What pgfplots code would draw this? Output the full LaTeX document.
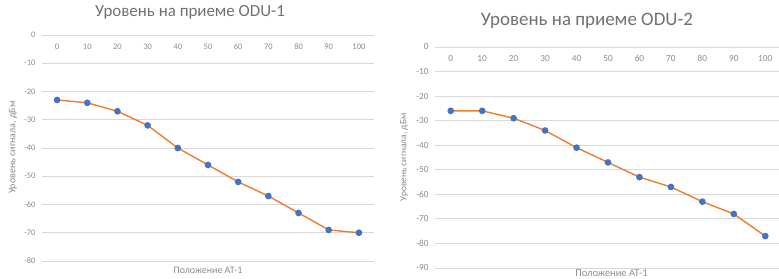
\documentclass[border=0pt]{standalone}
\usepackage{pgfplots}
\pgfplotsset{compat=1.18}
\usepackage{fontspec}
\setmainfont{Carlito}
\definecolor{lineor}{HTML}{ED7D31}
\definecolor{markbl}{HTML}{4472C4}
\definecolor{gridc}{HTML}{D9D9D9}
\definecolor{txtc}{HTML}{8C8C8C}
\definecolor{titc}{HTML}{707070}
\pgfplotsset{
  mystyle/.style={
    scale only axis,
    anchor=south west,
    xmin=-5, xmax=105,
    xtick={0,10,...,100},
    ymajorgrids, grid style={gridc, line width=0.8bp},
    axis line style={draw=none},
    major tick length=0pt,
    xticklabel pos=upper,
    /pgf/number format/assume math mode=true,
    tick label style={txtc},
    xticklabel style={anchor=north, yshift=-5bp},
    yticklabel style={xshift=-3bp},
    ylabel={Уровень сигнала, дБм},
    xlabel={Положение АТ-1},
    label style={txtc},
    title style={titc, anchor=center},
    clip=false,
  }
}
\begin{document}
\begin{tikzpicture}
\path[use as bounding box] (0,0) rectangle (779bp,279bp);
\begin{axis}[mystyle,
  at={(42bp,18bp)}, width=332bp, height=226bp,
  ymin=-80, ymax=0, ytick={-80,-70,...,0},
  tick label style={font=\fontsize{8.5}{9}\selectfont},
  label style={font=\fontsize{10}{11}\selectfont},
  ylabel style={at={(axis description cs:-0.087,0.502)}, anchor=center, rotate=0},
  xlabel style={at={(axis description cs:0.5,-0.04)}, anchor=center},
  title={Уровень на приеме ODU-1},
  title style={at={(axis description cs:0.446,1.075)}, font=\fontsize{17}{19}\selectfont},
]
\addplot[lineor, line width=1.4bp, mark=*, mark size=2.6bp, mark options={markbl, draw=markbl, fill=markbl}]
coordinates {(0,-23) (10,-24) (20,-27) (30,-32) (40,-40) (50,-46) (60,-52) (70,-57) (80,-63) (90,-69) (100,-70)};
\end{axis}
\begin{axis}[mystyle,
  at={(435bp,11bp)}, width=346bp, height=221bp,
  ymin=-90, ymax=0, ytick={-90,-80,...,0},
  tick label style={font=\fontsize{9.3}{10}\selectfont},
  ylabel style={at={(axis description cs:-0.0896,0.5)}, anchor=center, rotate=0, font=\fontsize{9.5}{10}\selectfont},
  xlabel style={at={(axis description cs:0.51,-0.023)}, anchor=center, font=\fontsize{10.5}{11}\selectfont},
  title={Уровень на приеме ODU-2},
  title style={at={(axis description cs:0.439,1.09)}, font=\fontsize{19}{21}\selectfont},
]
\addplot[lineor, line width=1.4bp, mark=*, mark size=2.6bp, mark options={markbl, draw=markbl, fill=markbl}]
coordinates {(0,-26) (10,-26) (20,-29) (30,-34) (40,-41) (50,-47) (60,-53) (70,-57) (80,-63) (90,-68) (100,-77)};
\end{axis}
\end{tikzpicture}
\end{document}
